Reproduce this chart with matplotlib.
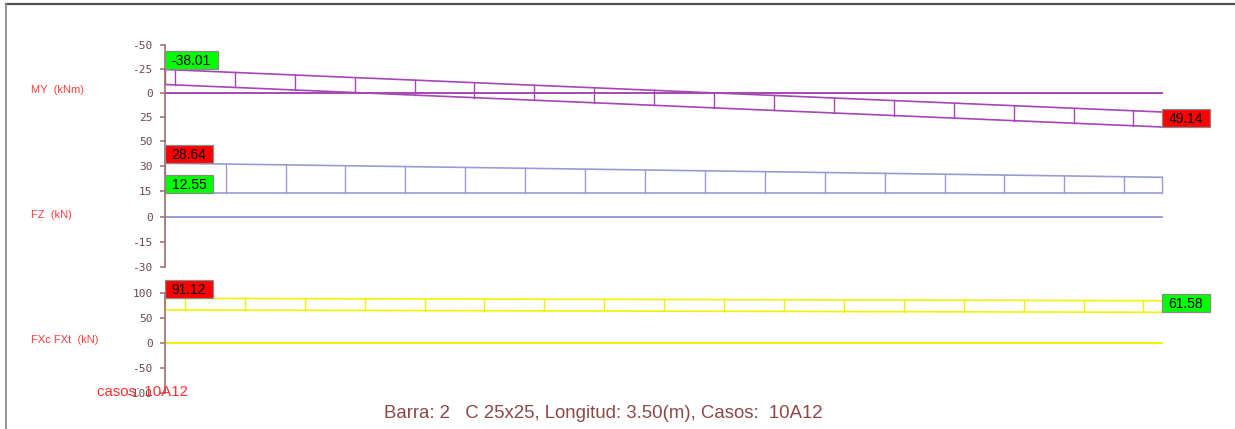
import numpy as np
import matplotlib
matplotlib.use("Agg")
import matplotlib.pyplot as plt
from matplotlib.lines import Line2D
from matplotlib.path import Path

# ---------------- data ----------------
beam_x = [0.0, 3.5]                      # bar length (m)

my_ticks = [-50, -25, 0, 25, 50]
my_upper = [-24.5, 19.8]                 # envelope line 1 (as drawn)
my_lower = [-8.9, 35.4]                  # envelope line 2 (as drawn)
my_min_label = "-38.01"
my_max_label = "49.14"

fz_ticks = [30, 15, 0, -15, -30]
fz_upper = [31.8, 23.4]
fz_lower = [13.8, 13.8]
fz_max_label = "28.64"
fz_min_label = "12.55"

fx_ticks = [100, 50, 0, -50, -100]
fx_upper = [89.4, 84.6]
fx_lower = [66.0, 61.4]
fx_max_label = "91.12"
fx_min_label = "61.58"

title = "Barra: 2   C 25x25, Longitud: 3.50(m), Casos:  10A12"
casos = "casos: 10A12"

# ---------------- style ----------------
W, H = 1235, 429
fig = plt.figure(figsize=(W / 100, H / 100), dpi=100)
fig.patch.set_facecolor("white")

AXIS_C = "#9a6e6e"
TICK_C = "#6e4848"
RED_T = "#ff3b3b"
MY_C = "#a646b4"
FZ_C = "#9a9ad8"
FX_C = "#f2f200"
HATCH_STEP = 0.2103

TAG_FS = 10
PADX, PADT, PADB = 0.48, 0.22, 0.08     # fractions of font size


def tag_box(x0, y0, width, height, mutation_size):
    px = PADX * mutation_size
    pt = PADT * mutation_size
    pb = PADB * mutation_size
    xa, xb = x0 - px, x0 + width + px
    ya, yb = y0 - pb, y0 + height + pt
    return Path([(xa, ya), (xb, ya), (xb, yb), (xa, yb), (xa, ya)],
                [Path.MOVETO, Path.LINETO, Path.LINETO, Path.LINETO, Path.CLOSEPOLY])


def px_rect(top, bot, left=165, right=1162):
    return [left / W, 1 - bot / H, (right - left) / W, (bot - top) / H]


def setup(ax, ylim, ticks):
    ax.set_xlim(0, 3.5)
    ax.set_ylim(*ylim)
    ax.patch.set_alpha(0)
    for s in ["top", "right", "bottom"]:
        ax.spines[s].set_visible(False)
    ax.spines["left"].set_color(AXIS_C)
    ax.spines["left"].set_linewidth(1.2)
    ax.xaxis.set_visible(False)
    ax.set_yticks(ticks)
    ax.set_yticklabels([str(t) for t in ticks])
    ax.tick_params(axis="y", direction="out", length=3.5, width=1.1,
                   color=AXIS_C, labelcolor=TICK_C, pad=5.5,
                   labelsize=8)
    for lab in ax.get_yticklabels():
        lab.set_fontfamily("DejaVu Sans Mono")


def band(ax, upper, lower, color, offset, ends=(True, False)):
    ax.plot(beam_x, [0, 0], color=color, lw=1.4, clip_on=False)
    ax.plot(beam_x, upper, color=color, lw=1.2, clip_on=False)
    ax.plot(beam_x, lower, color=color, lw=1.2, clip_on=False)
    xs = list(np.arange(offset, beam_x[1] - 0.02, HATCH_STEP))
    if ends[0]:
        xs = [beam_x[0]] + xs
    if ends[1]:
        xs = xs + [beam_x[1]]
    for x in xs:
        ax.plot([x, x], [np.interp(x, beam_x, upper), np.interp(x, beam_x, lower)],
                color=color, lw=1.0, clip_on=False)


def tag(ax, x, y, text, fc):
    ms_pt = TAG_FS  # mutation size in points
    ax.annotate(text, xy=(x, y), xytext=(PADX * ms_pt, PADB * ms_pt),
                textcoords="offset points", ha="left", va="bottom",
                fontsize=TAG_FS, family="Liberation Sans", color="black",
                bbox=dict(boxstyle=tag_box, fc=fc, ec="#8a8a8a", lw=0.9),
                annotation_clip=False, zorder=5)


# MY panel
ax1 = fig.add_axes(px_rect(45, 141))
setup(ax1, (50, -50), my_ticks)
band(ax1, my_upper, my_lower, MY_C, 0.035)
tag(ax1, beam_x[0], my_upper[0], my_min_label, "#00ff00")
tag(ax1, beam_x[1], my_lower[1], my_max_label, "#ff0000")

# FZ panel
ax2 = fig.add_axes(px_rect(141, 267))
setup(ax2, (-30, 45), fz_ticks)
band(ax2, fz_upper, fz_lower, FZ_C, 0.213, ends=(True, True))
tag(ax2, beam_x[0], fz_upper[0], fz_max_label, "#ff0000")
tag(ax2, beam_x[0], fz_lower[0], fz_min_label, "#00ff00")

# FX panel
ax3 = fig.add_axes(px_rect(293, 393))
setup(ax3, (-100, 100), fx_ticks)
band(ax3, fx_upper, fx_lower, FX_C, 0.070)
tag(ax3, beam_x[0], fx_upper[0], fx_max_label, "#ff0000")
tag(ax3, beam_x[1], fx_lower[1], fx_min_label, "#00ff00")


def ftext(x, y, s, **kw):
    fig.text(x / W, 1 - y / H, s, **kw)


ftext(31, 90, "MY  (kNm)", color=RED_T, fontsize=8, family="Liberation Sans", va="center")
ftext(31, 215, "FZ  (kN)", color=RED_T, fontsize=8, family="Liberation Sans", va="center")
ftext(31, 340, "FXc FXt  (kN)", color=RED_T, fontsize=8, family="Liberation Sans", va="center")
ftext(97, 392, casos, color="#ff3030", fontsize=10.8, family="Liberation Sans",
      va="center", zorder=10)
ftext(603, 413, title, color="#8c4848", fontsize=13.4, family="Liberation Sans",
      va="center", ha="center")

# frame
fig.add_artist(Line2D([6 / W, 1], [1 - 3.5 / H, 1 - 3.5 / H], color="#505050", lw=1.6,
                      transform=fig.transFigure))
fig.add_artist(Line2D([6 / W, 6 / W], [0, 1 - 3.5 / H], color="#8a8a8a", lw=1.3,
                      transform=fig.transFigure))

fig.savefig("out.png", dpi=100, facecolor="white")
